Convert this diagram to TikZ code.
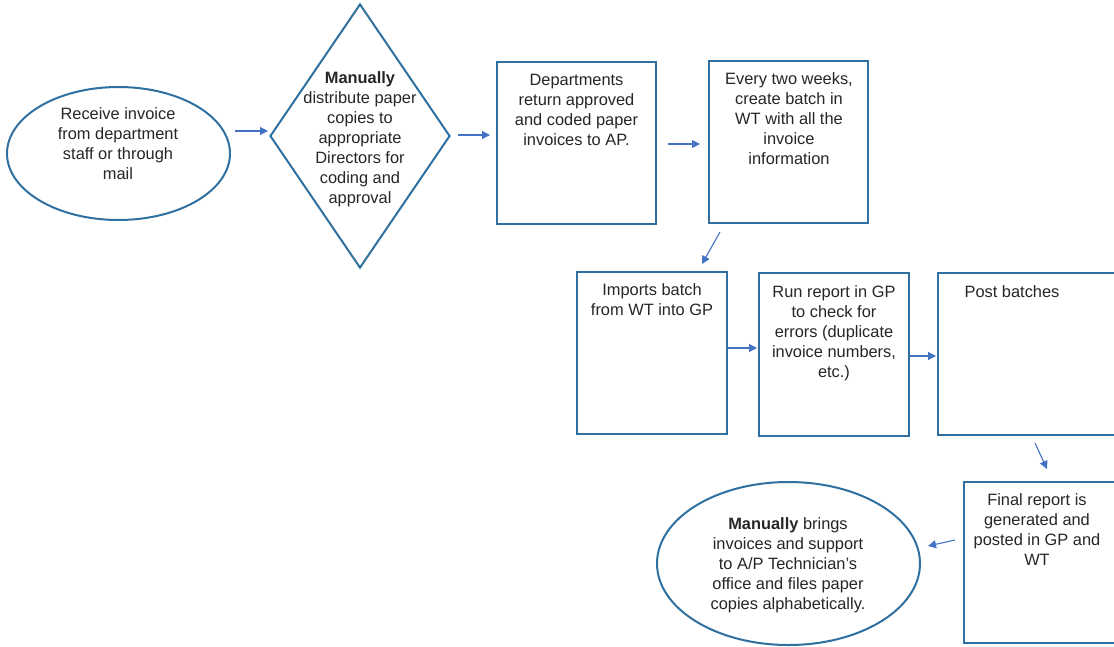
\documentclass[tikz,border=0pt]{standalone}
\usepackage{fontspec}
\setmainfont{Liberation Sans}
\usetikzlibrary{shapes.geometric,arrows.meta}
\definecolor{shapeblue}{RGB}{47,112,160}
\definecolor{arrowblue}{RGB}{68,114,196}
\tikzset{
  shapeline/.style={draw=shapeblue, line width=2pt, fill=white},
  boxnode/.style={shapeline, rectangle, inner sep=0pt},
  ovalnode/.style={shapeline, ellipse, inner sep=0pt},
  decisionnode/.style={shapeline, diamond, inner sep=0pt},
  label text/.style={align=center, inner sep=0pt, text=black!85,
    font=\fontsize{16.4}{20}\selectfont},
  flowarrow/.style={draw=arrowblue, line width=1.1pt,
    -{Triangle[length=8pt,width=8pt]}},
}
\begin{document}
\begin{tikzpicture}[x=1pt,y=-1pt]
\useasboundingbox (0,0) rectangle (1114,646);
\clip (0,0) rectangle (1114,646);
% shapes
\node[ovalnode, minimum width=223pt, minimum height=133pt] (start) at (118.5,153.5) {};
\node[decisionnode, minimum width=180pt, minimum height=264pt] (dist) at (360,136) {};
\node[boxnode, minimum width=159pt, minimum height=162pt] (ret) at (576.5,143) {};
\node[boxnode, minimum width=159pt, minimum height=162pt] (batch) at (788.5,142) {};
\node[boxnode, minimum width=150pt, minimum height=162pt] (imp) at (652,353) {};
\node[boxnode, minimum width=150pt, minimum height=163pt] (run) at (834,354.5) {};
\node[boxnode, minimum width=180pt, minimum height=162pt] (post) at (1028,354) {};
\node[boxnode, minimum width=160pt, minimum height=161pt] (final) at (1044,562.5) {};
\node[ovalnode, minimum width=263pt, minimum height=163pt] (file) at (788.5,563.5) {};
% texts
\node[label text] (tstart) at (118,144) {Receive invoice\\from department\\staff or through\\mail};
\node[label text] (tdist) at (360,139) {\textbf{Manually}\\distribute paper\\copies to\\appropriate\\Directors for\\coding and\\approval};
\node[label text] (tret) at (576.5,110) {Departments\\return approved\\and coded paper\\invoices to AP.};
\node[label text] (tbatch) at (789,119) {Every two weeks,\\create batch in\\WT with all the\\invoice\\information};
\node[label text] (timp) at (652,300) {Imports batch\\from WT into GP};
\node[label text] (trun) at (834,333) {Run report in GP\\to check for\\errors (duplicate\\invoice numbers,\\etc.)};
\node[label text] (tpost) at (1012,292) {Post batches};
\node[label text] (tfinal) at (1037,530) {Final report is\\generated and\\posted in GP and\\WT};
\node[label text] (tfile) at (788,565) {\textbf{Manually} brings\\invoices and support\\to A/P Technician’s\\office and files paper\\copies alphabetically.};
% arrow end points
\coordinate (a1s) at (235,131);  \coordinate (a1e) at (268,131);
\coordinate (a2s) at (458,135);  \coordinate (a2e) at (490,135);
\coordinate (a3s) at (668,144);  \coordinate (a3e) at (700,144);
\coordinate (a4s) at (720,232);  \coordinate (a4e) at (702,264);
\coordinate (a5s) at (727,348);  \coordinate (a5e) at (757,348);
\coordinate (a6s) at (910,356);  \coordinate (a6e) at (936,356);
\coordinate (a7s) at (1035,443); \coordinate (a7e) at (1047,469);
\coordinate (a8s) at (955,540);  \coordinate (a8e) at (928,546);
\draw[flowarrow] (a1s) -- (a1e);
\draw[flowarrow] (a2s) -- (a2e);
\draw[flowarrow] (a3s) -- (a3e);
\draw[flowarrow] (a4s) -- (a4e);
\draw[flowarrow] (a5s) -- (a5e);
\draw[flowarrow] (a6s) -- (a6e);
\draw[flowarrow] (a7s) -- (a7e);
\draw[flowarrow] (a8s) -- (a8e);
\end{tikzpicture}
\end{document}
